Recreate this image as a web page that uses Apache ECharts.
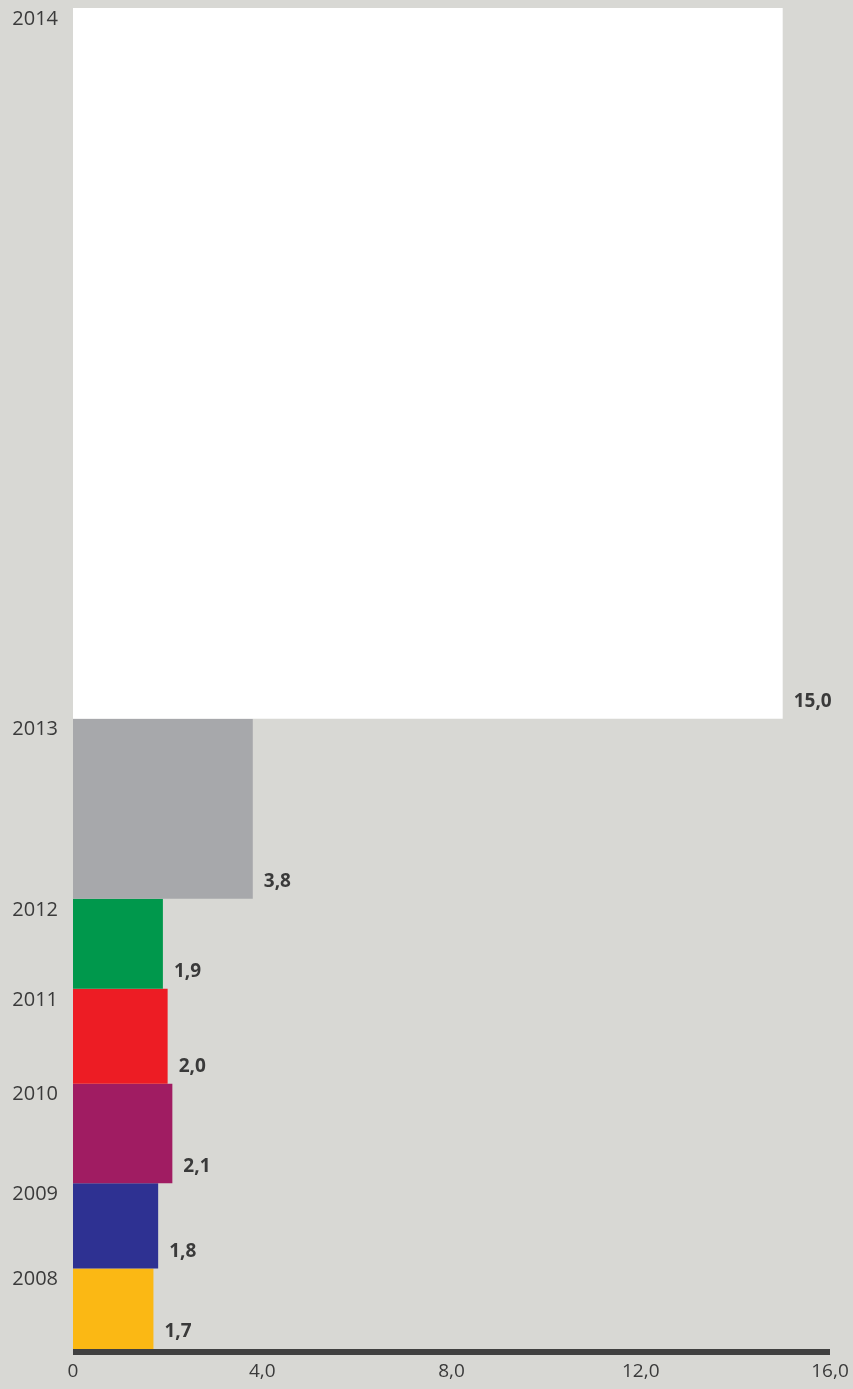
<!DOCTYPE html>
<html>
<head>
<meta charset="utf-8">
<script src="https://cdn.jsdelivr.net/npm/echarts@6/dist/echarts.min.js"></script>
<style>
  html, body { margin: 0; padding: 0; background: #d8d8d4; }
  #main { width: 853px; height: 1389px; }
</style>
</head>
<body>
<div id="main"></div>
<script>
// bottom to top
var years = ["2008", "2009", "2010", "2011", "2012", "2013", "2014"];
var values = [1.7, 1.8, 2.1, 2.0, 1.9, 3.8, 15.0];
var colors = ["#fbb814", "#2e3192", "#a01c62", "#ed1c24", "#00984c", "#a7a8ab", "#ffffff"];
var xTicks = [0, 4, 8, 12, 16];

var chart = echarts.init(document.getElementById("main"));

var data = [];
var start = 0;
for (var i = 0; i < values.length; i++) {
  data.push([values[i], start, i]);
  start += values[i];
}
// bars stacked to the top of the grid; grid is sized so each bar is ~square
var yMax = start;

function fmt(v) {
  return v === 0 ? "0" : v.toFixed(1).replace(".", ",");
}

var font = "'Open Sans', 'Noto Sans', sans-serif";

chart.setOption({
  backgroundColor: "#d8d8d4",
  animation: false,
  grid: { left: 73, right: 23, top: 8, bottom: 40 },
  xAxis: {
    type: "value",
    min: 0,
    max: xTicks[xTicks.length - 1],
    interval: 4,
    offset: 3,
    splitLine: { show: false },
    axisTick: { show: false },
    axisLine: { show: true, onZero: false, lineStyle: { color: "#404040", width: 6, cap: "butt" } },
    axisLabel: {
      margin: 10,
      color: "#3a3a3a",
      fontSize: 19,
      fontFamily: font,
      formatter: fmt
    }
  },
  yAxis: {
    type: "value",
    min: 0,
    max: yMax,
    show: false
  },
  series: [
    {
      type: "custom",
      data: data,
      renderItem: function(params, api) {
        var v = api.value(0);
        var y0 = api.value(1);
        var idx = api.value(2);
        var p0 = api.coord([0, y0]);
        var p1 = api.coord([v, y0 + v]);
        return {
          type: "group",
          children: [
            {
              type: "rect",
              shape: { x: p0[0], y: p1[1], width: p1[0] - p0[0], height: p0[1] - p1[1] },
              style: { fill: colors[idx] }
            },
            {
              type: "text",
              x: p0[0] - 15,
              y: p1[1] + 11,
              style: {
                text: years[idx],
                align: "right",
                verticalAlign: "middle",
                fill: "#3a3a3a",
                font: "20px " + font
              }
            },
            {
              type: "text",
              x: p1[0] + 11,
              y: p0[1] - 17,
              style: {
                text: fmt(v),
                align: "left",
                verticalAlign: "middle",
                fill: "#3a3a3a",
                font: "bold 19px " + font
              }
            }
          ]
        };
      }
    }
  ]
});
</script>
</body>
</html>
